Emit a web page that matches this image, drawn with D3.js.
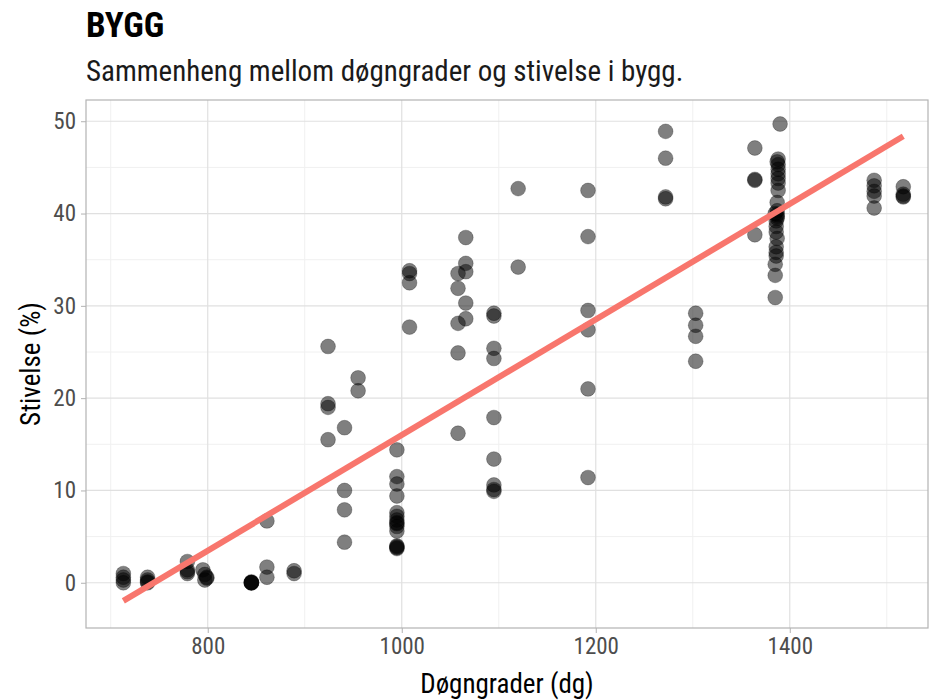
<!DOCTYPE html>
<html>
<head>
<meta charset="utf-8">
<script src="https://cdn.jsdelivr.net/npm/d3@7"></script>
<style>
  body { margin: 0; background: #fff; }
  svg text { font-family: "Roboto Condensed", "Liberation Sans Narrow", "DejaVu Sans Condensed", sans-serif; }
</style>
</head>
<body>
<div id="chart"></div>
<script>
// Døgngrader (x) for each point
const dg = [
  713, 713, 713, 713,
  738, 738, 738, 738,
  779, 779, 779, 779,
  795, 797, 799, 797, 799,
  845, 845, 845, 845, 845,
  861, 861, 861,
  889, 889,
  924, 924, 924, 924,
  941, 941, 941, 941,
  955, 955,
  995, 995, 995, 995, 995, 995, 995, 995, 995, 995, 995, 995, 995, 995, 995,
  1008, 1008, 1008, 1008,
  1058, 1058, 1058, 1058, 1058,
  1066, 1066, 1066, 1066, 1066,
  1095, 1095, 1095, 1095, 1095, 1095, 1095, 1095, 1095,
  1120, 1120,
  1192, 1192, 1192, 1192, 1192, 1192,
  1272, 1272, 1272, 1272,
  1303, 1303, 1303, 1303,
  1364, 1364, 1364, 1364,
  1390, 1388, 1388, 1388, 1388, 1388, 1387, 1387, 1387, 1387, 1387, 1386, 1386, 1386, 1387, 1386, 1386, 1386, 1385, 1385, 1385, 1385, 1388, 1388, 1387,
  1487, 1487, 1487, 1487, 1487,
  1517, 1517, 1517, 1517
];
// Stivelse (%) for each point
const stivelse = [
  1.0, 0.6, 0.3, 0.0,
  0.6, 0.3, 0.1, 0.0,
  2.3, 1.4, 1.2, 1.0,
  1.4, 0.9, 0.5, 0.3, 0.6,
  0.0, 0.0, 0.0, 0.0, 0.1,
  6.7, 1.7, 0.6,
  1.3, 1.0,
  25.6, 19.4, 19.0, 15.5,
  16.8, 10.0, 7.9, 4.4,
  22.2, 20.8,
  14.4, 11.5, 10.7, 9.4, 7.6, 7.2, 6.8, 6.4, 6.1, 5.6, 4.0, 3.7, 3.9, 6.5, 3.8,
  33.8, 33.5, 32.5, 27.7,
  33.5, 31.9, 28.1, 24.9, 16.2,
  37.4, 34.6, 33.7, 30.3, 28.6,
  29.2, 28.9, 25.4, 24.3, 17.9, 13.4, 10.6, 10.1, 9.9,
  42.7, 34.2,
  42.5, 37.5, 29.5, 27.4, 21.0, 11.4,
  48.9, 46.0, 41.8, 41.6,
  29.2, 27.9, 26.7, 24.0,
  47.1, 43.7, 43.6, 37.7,
  49.7, 45.9, 45.3, 44.3, 43.3, 42.5, 41.2, 40.3, 39.9, 39.7, 39.5, 39.2, 38.6, 38.0, 37.3, 36.4, 35.8, 35.4, 34.5, 33.3, 30.9, 40.0, 44.8, 43.8, 45.6,
  43.6, 43.0, 42.4, 41.9, 40.6,
  42.9, 42.1, 41.9, 41.8
];
const xTicks = [800, 1000, 1200, 1400];
const xMinor = [700, 900, 1100, 1300, 1500];
const yTicks = [0, 10, 20, 30, 40, 50];
const yMinor = [5, 15, 25, 35, 45];

const data = dg.map((d, i) => ({ x: d, y: stivelse[i] }));

const width = 930, height = 700;
const margin = { top: 100, right: 2, bottom: 72, left: 86 };
const innerWidth = width - margin.left - margin.right;
const innerHeight = height - margin.top - margin.bottom;

const svg = d3.select("#chart").append("svg")
  .attr("width", width)
  .attr("height", height);

const g = svg.append("g")
  .attr("transform", `translate(${margin.left},${margin.top})`);

const x = d3.scaleLinear().domain([674.5, 1542.5]).range([0, innerWidth]);
const y = d3.scaleLinear().domain([-4.9, 52.3]).range([innerHeight, 0]);

// grid lines
g.selectAll(".xminor").data(xMinor).enter().append("line")
  .attr("x1", d => x(d)).attr("x2", d => x(d))
  .attr("y1", 0).attr("y2", innerHeight)
  .attr("stroke", "#f0f0f0").attr("stroke-width", 1);
g.selectAll(".yminor").data(yMinor).enter().append("line")
  .attr("y1", d => y(d)).attr("y2", d => y(d))
  .attr("x1", 0).attr("x2", innerWidth)
  .attr("stroke", "#f0f0f0").attr("stroke-width", 1);
g.selectAll(".xmajor").data(xTicks).enter().append("line")
  .attr("x1", d => x(d)).attr("x2", d => x(d))
  .attr("y1", 0).attr("y2", innerHeight)
  .attr("stroke", "#e0e0e0").attr("stroke-width", 1.2);
g.selectAll(".ymajor").data(yTicks).enter().append("line")
  .attr("y1", d => y(d)).attr("y2", d => y(d))
  .attr("x1", 0).attr("x2", innerWidth)
  .attr("stroke", "#e0e0e0").attr("stroke-width", 1.2);

// axes
const xAxis = g.append("g")
  .attr("transform", `translate(0,${innerHeight})`)
  .call(d3.axisBottom(x).tickValues(xTicks).tickFormat(d3.format("d")).tickSize(5).tickPadding(5));
const yAxis = g.append("g")
  .call(d3.axisLeft(y).tickValues(yTicks).tickSize(5).tickPadding(5));
[xAxis, yAxis].forEach(a => {
  a.select(".domain").remove();
  a.selectAll("line").attr("stroke", "#b3b3b3");
  a.selectAll("text").attr("fill", "#4d4d4d").style("font-size", "23px");
});

// points
g.selectAll("circle").data(data).enter().append("circle")
  .attr("cx", d => x(d.x))
  .attr("cy", d => y(d.y))
  .attr("r", 7.4)
  .attr("fill", "#000")
  .attr("fill-opacity", 0.5)
  .attr("stroke", "#000")
  .attr("stroke-opacity", 0.25)
  .attr("stroke-width", 1);

// linear regression line
const mx = d3.mean(data, d => d.x), my = d3.mean(data, d => d.y);
const slope = d3.sum(data, d => (d.x - mx) * (d.y - my)) / d3.sum(data, d => (d.x - mx) ** 2);
const intercept = my - slope * mx;
const ext = d3.extent(data, d => d.x);
g.append("path")
  .datum(ext.map(v => ({ x: v, y: intercept + slope * v })))
  .attr("fill", "none")
  .attr("stroke", "#F8766D")
  .attr("stroke-width", 6)
  .attr("d", d3.line().x(d => x(d.x)).y(d => y(d.y)));

// panel border
g.append("rect")
  .attr("width", innerWidth).attr("height", innerHeight)
  .attr("fill", "none").attr("stroke", "#b3b3b3").attr("stroke-width", 1.2);

// titles
svg.append("text").attr("x", 86).attr("y", 37)
  .style("font-size", "35px").style("font-weight", "bold").attr("fill", "#000")
  .text("BYGG");
svg.append("text").attr("x", 86).attr("y", 81)
  .style("font-size", "29px").attr("fill", "#1a1a1a")
  .text("Sammenheng mellom døgngrader og stivelse i bygg.");
svg.append("text")
  .attr("transform", `translate(40,${margin.top + innerHeight / 2}) rotate(-90)`)
  .attr("text-anchor", "middle")
  .style("font-size", "27px").attr("fill", "#000")
  .text("Stivelse (%)");
svg.append("text")
  .attr("x", margin.left + innerWidth / 2).attr("y", 693)
  .attr("text-anchor", "middle")
  .style("font-size", "27px").attr("fill", "#000")
  .text("Døgngrader (dg)");
</script>
</body>
</html>
